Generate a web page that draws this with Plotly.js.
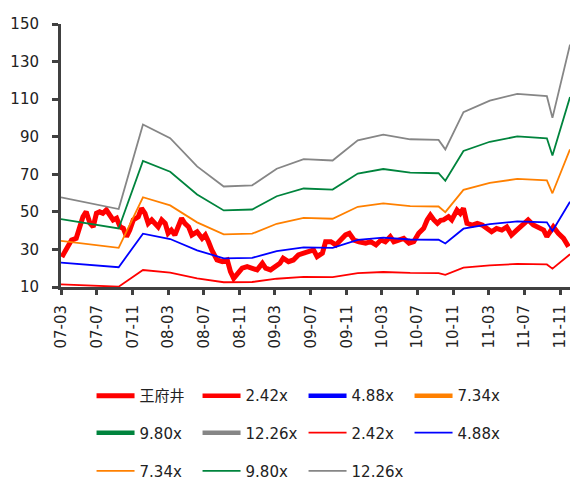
<!DOCTYPE html>
<html>
<head>
<meta charset="utf-8">
<script src="https://cdn.plot.ly/plotly-3.0.1.min.js"></script>
<style>html,body{margin:0;padding:0;background:#fff;}</style>
</head>
<body>
<div id="chart" style="width:577px;height:481px;"></div>
<script>
// Stock price (王府井)
const priceDates = ['2007-03-04','2007-03-19','2007-04-06','2007-04-22','2007-05-04','2007-05-15','2007-05-26','2007-06-08','2007-06-19','2007-06-30',
'2007-07-11','2007-07-22','2007-08-03','2007-08-15','2007-08-26','2007-09-07','2007-09-19','2007-09-30','2007-10-11','2007-10-22',
'2007-11-03','2007-11-20','2007-12-01','2007-12-13','2007-12-24','2008-01-05','2008-01-16','2008-01-27','2008-02-08','2008-02-20',
'2008-03-01','2008-03-12','2008-03-24','2008-04-05','2008-04-16','2008-04-27','2008-05-10','2008-05-21','2008-06-08','2008-06-25',
'2008-07-06','2008-07-17','2008-07-28','2008-08-15','2008-09-02','2008-09-19','2008-09-30','2008-10-11','2008-10-22','2008-11-09',
'2008-11-26','2008-12-13','2008-12-30','2009-01-17','2009-01-28','2009-02-14','2009-03-02','2009-03-18','2009-03-29','2009-04-16',
'2009-05-03','2009-05-20','2009-06-07','2009-06-24','2009-07-11','2009-07-23','2009-08-10','2009-08-21','2009-09-08','2009-09-25',
'2009-10-12','2009-10-28','2009-11-10','2009-11-26','2009-12-13','2010-01-05','2010-01-22','2010-02-09','2010-02-26','2010-03-13',
'2010-03-30','2010-04-11','2010-04-28','2010-05-15','2010-06-02','2010-06-18','2010-07-05','2010-07-22','2010-08-03','2010-08-14',
'2010-08-26','2010-09-07','2010-09-18','2010-09-28','2010-10-15','2010-10-26','2010-11-13','2010-11-24','2010-12-05','2010-12-17',
'2011-01-04','2011-01-21','2011-02-07','2011-02-24','2011-03-11','2011-03-28','2011-04-15','2011-05-02','2011-05-18','2011-06-05',
'2011-06-22','2011-07-14','2011-08-01','2011-08-18','2011-09-05','2011-09-16','2011-09-27','2011-10-08','2011-10-25','2011-11-12',
'2011-11-29'];
const priceValues = [26, 30.6, 35, 35.9, 42, 47.4, 50.1, 43.9, 42, 49.2,
50, 49.2, 51, 48.3, 45.7, 46.6, 42, 41.2, 36.8, 40.3,
45.7, 47.4, 51.9, 49.2, 43.9, 45.7, 43.9, 42, 45.7, 43.9,
38.6, 40.3, 37.7, 42, 46.6, 43.9, 42, 37.7, 39.4, 35.9,
37.7, 34.1, 29.7, 24.4, 23.5, 24.4, 18.2, 14.6, 16.4, 20,
20.8, 20, 19.1, 22.6, 20, 19.1, 20.8, 22.6, 25.3, 23.5,
24.4, 27.1, 28, 28.8, 29.7, 26.2, 28, 34.1, 34.1, 32.4,
35, 37.7, 38.6, 35, 34.1, 33.3, 34.1, 32.4, 35, 34.1,
36.8, 34.1, 35, 35.9, 33.3, 34.1, 38.6, 41.2, 45.7, 48.3,
45.7, 43.9, 45.5, 45.7, 47.4, 45.7, 51, 49.2, 51.9, 43.9,
43, 43.9, 43, 41.2, 39.4, 41.2, 40.3, 42, 37.7, 40.3,
43, 45.7, 43, 42, 40.3, 36.8, 39.4, 42, 38.6, 35.9,
31.5];

// PE band lines
const bandDates = ['2007-03-01','2007-09-14','2007-12-06','2008-03-08','2008-06-08','2008-09-07','2008-12-13','2009-03-07','2009-06-07','2009-09-14','2009-12-09','2010-03-06','2010-06-06','2010-09-11','2010-10-04','2010-12-05','2011-03-05','2011-06-07','2011-09-16','2011-10-05','2011-12-04'];
const band242 = [11.40, 10.16, 19.05, 17.62, 14.64, 12.54, 12.66, 14.40, 15.42, 15.27, 17.38, 17.98, 17.50, 17.42, 16.43, 20.35, 21.56, 22.26, 22.02, 19.75, 27.44];
const band488 = [22.98, 20.50, 38.41, 35.53, 29.52, 25.28, 25.52, 29.04, 31.09, 30.79, 35.04, 36.26, 35.28, 35.14, 33.14, 41.04, 43.48, 44.90, 44.41, 39.82, 55.34];
const band734 = [34.57, 30.83, 57.77, 53.44, 44.41, 38.02, 38.39, 43.67, 46.76, 46.32, 52.70, 54.54, 53.07, 52.85, 49.84, 61.73, 65.40, 67.53, 66.79, 59.89, 83.24];
const band980 = [46.16, 41.16, 77.13, 71.34, 59.29, 50.76, 51.25, 58.31, 62.43, 61.84, 70.36, 72.81, 70.85, 70.56, 66.54, 82.42, 87.32, 90.16, 89.18, 79.97, 111.13];
const band1226 = [57.74, 51.49, 96.49, 89.25, 74.17, 63.51, 64.12, 72.95, 78.10, 77.36, 88.03, 91.09, 88.64, 88.27, 83.25, 103.11, 109.24, 112.79, 111.57, 100.04, 139.03];

const bandNames = ['2.42x','4.88x','7.34x','9.80x','12.26x'];
const priceName = '王府井';
const yTicks = [10, 30, 50, 70, 90, 110, 130, 150];

const colors = ['#FF0000','#0000FF','#FF8000','#00843D','#868686'];
const bands = [band242, band488, band734, band980, band1226];

const traces = [];
traces.push({x: priceDates, y: priceValues, name: priceName, mode: 'lines', type: 'scatter',
  line: {color: '#FF0000', width: 5}, legend: 'legend'});
// thick legend-only entries (no data drawn)
bandNames.forEach((n, i) => {
  traces.push({x: [null], y: [null], name: n, mode: 'lines', type: 'scatter',
    line: {color: colors[i], width: 4.5}, legend: i < 3 ? 'legend' : 'legend2'});
});
bandNames.forEach((n, i) => {
  traces.push({x: bandDates, y: bands[i], name: n, mode: 'lines', type: 'scatter',
    line: {color: colors[i], width: 1.8}, legend: i < 2 ? 'legend2' : 'legend3'});
});

const font = {family: 'DejaVu Sans, Noto Sans CJK SC, sans-serif', size: 15, color: '#222'};
const legBase = {orientation: 'h', x: 0.06, xanchor: 'left', yanchor: 'middle', itemwidth: 38,
  entrywidth: 53, entrywidthmode: 'pixels', font: font, bgcolor: 'rgba(0,0,0,0)', traceorder: 'normal'};

const layout = {
  width: 577, height: 481,
  margin: {l: 61, r: 7, t: 24, b: 194, autoexpand: false},
  paper_bgcolor: '#fff', plot_bgcolor: '#fff',
  font: font,
  showlegend: true,
  xaxis: {type: 'date', range: ['2007-03-01', '2011-12-04'], tick0: '2007-03-01', dtick: 'M4',
    tickformat: '%y-%m', tickangle: -90, showgrid: false, zeroline: false, automargin: false,
    showline: true, linecolor: '#404040', linewidth: 3, ticks: 'outside', ticklen: 5, tickwidth: 3, tickcolor: '#404040',
    tickfont: font, ticklabelstandoff: 4},
  yaxis: {range: [10, 150], tickvals: yTicks, showgrid: false, zeroline: false, automargin: false,
    showline: true, linecolor: '#404040', linewidth: 3, ticks: 'outside', ticklen: 6, tickwidth: 3, tickcolor: '#404040',
    tickfont: font, ticklabelstandoff: 10},
  legend: Object.assign({}, legBase, {y: -0.414}),
  legend2: Object.assign({}, legBase, {y: -0.555}),
  legend3: Object.assign({}, legBase, {y: -0.700})
};

Plotly.newPlot('chart', traces, layout, {displayModeBar: false, staticPlot: true});
</script>
</body>
</html>
